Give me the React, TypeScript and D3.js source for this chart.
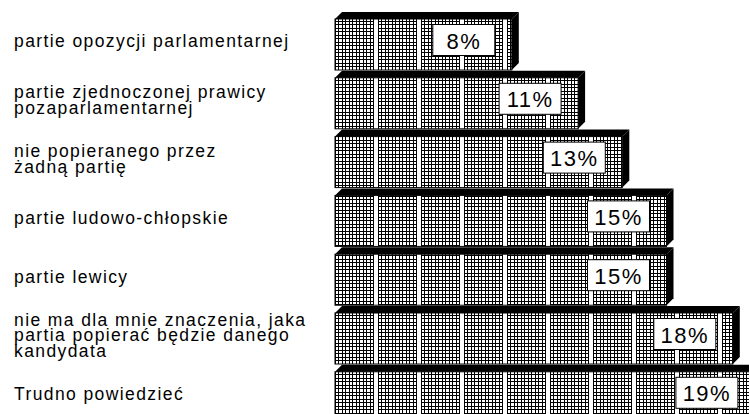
import React from "react";
import * as d3 from "d3";

const categories = [
  "partie opozycji parlamentarnej",
  "partie zjednoczonej prawicy\npozaparlamentarnej",
  "nie popieranego przez\nżadną partię",
  "partie ludowo-chłopskie",
  "partie lewicy",
  "nie ma dla mnie znaczenia, jaka\npartia popierać będzie danego\nkandydata",
  "Trudno powiedzieć",
];
const values = [8, 11, 13, 15, 15, 18, 19];
const valueLabels = ["8%", "11%", "13%", "15%", "15%", "18%", "19%"];

const W = 749;
const H = 414;
const DEPTH = 7;

const vLines = [0, 3, 7, 10, 14, 17, 21, 24, 28, 31, 35, 38];

export default function App() {
  const x = d3.scaleLinear().domain([0, 20]).range([335, 777]);
  const y = d3
    .scaleBand<string>()
    .domain(categories)
    .range([12, 12 + categories.length * 58.8])
    .paddingInner(0)
    .paddingOuter(0);
  const step = y.step();
  const frontH = step - DEPTH - 0.8;
  const x0 = x(0);

  return (
    <svg
      width={W}
      height={H}
      style={{ position: "absolute", left: 0, top: 0, background: "#fff" }}
      fontFamily="'Liberation Sans', Arial, sans-serif"
    >
      <defs>
        <pattern id="grid" patternUnits="userSpaceOnUse" x={x0} y={0} width={43} height={7}>
          <rect x={0} y={0} width={43} height={7} fill="#fff" />
          <rect x={0} y={0} width={39} height={1} fill="#000" />
          <rect x={0} y={3} width={39} height={1} fill="#000" />
          {vLines.map((px) => (
            <rect key={px} x={px} y={0} width={1} height={7} fill="#000" />
          ))}
        </pattern>
      </defs>
      <rect x={0} y={0} width={W} height={H} fill="#fff" />
      {categories.map((c, i) => {
        const top = y(c)!;
        const fy = top + DEPTH;
        const x1 = x(values[i]);
        const cy = top + (DEPTH + frontH) / 2;
        const lines = c.split("\n");
        const lh = 15.5;
        const boxW = 62;
        const boxH = 31;
        const boxR = x1 - 17;
        return (
          <g key={c}>
            <polygon
              points={`${x0},${fy} ${x0 + DEPTH},${top} ${x1 + DEPTH},${top} ${x1},${fy}`}
              fill="#000"
            />
            <polygon
              points={`${x1},${fy} ${x1 + DEPTH},${top} ${x1 + DEPTH},${fy + frontH - DEPTH} ${x1},${fy + frontH}`}
              fill="#000"
            />
            <rect
              x={x0}
              y={fy}
              width={x1 - x0}
              height={frontH}
              fill="url(#grid)"
              stroke="#000"
              strokeWidth={1}
            />
            <rect
              x={boxR - boxW}
              y={cy - boxH / 2 - 1}
              width={boxW}
              height={boxH}
              fill="#fff"
              stroke="#000"
              strokeWidth={1}
            />
            <text
              x={boxR - boxW / 2}
              y={cy + 7.5}
              textAnchor="middle"
              fontSize={22}
              letterSpacing={1.5}
              fill="#000"
            >
              {valueLabels[i]}
            </text>
            <text fontSize={17.5} letterSpacing={1.4} fill="#000">
              {lines.map((ln, k) => (
                <tspan
                  key={k}
                  x={14}
                  y={cy + (k - (lines.length - 1) / 2) * lh + 6.3}
                >
                  {ln}
                </tspan>
              ))}
            </text>
          </g>
        );
      })}
    </svg>
  );
}
